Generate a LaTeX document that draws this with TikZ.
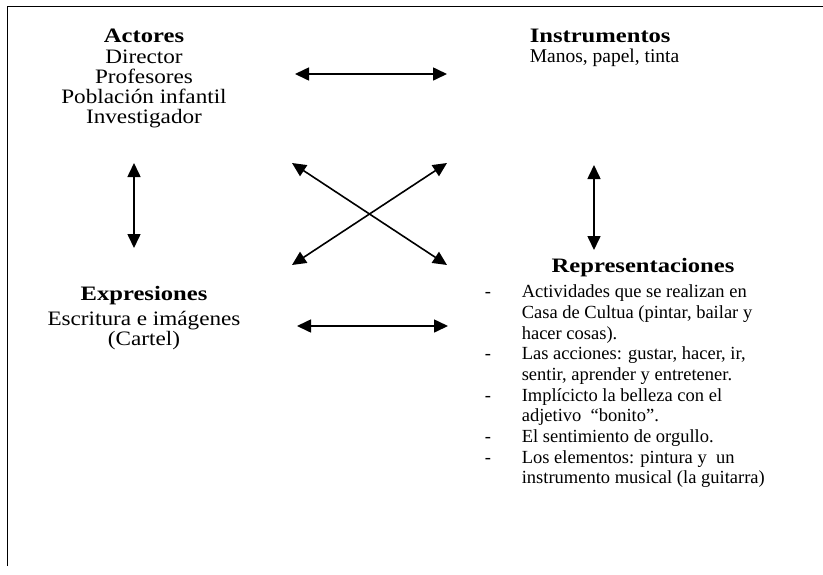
\documentclass[tikz,border=0pt]{standalone}
\usepackage{fontspec}
\setmainfont{Liberation Serif}
\newfontfamily\wide[FakeStretch=1.13]{Liberation Serif}
\newfontfamily\wider[FakeStretch=1.2]{Liberation Serif}
\usetikzlibrary{arrows.meta,positioning}

\newcommand{\itm}{\makebox[37pt][l]{-}}
\newcommand{\ind}{\hspace*{37pt}}

\begin{document}
\begin{tikzpicture}[
	x = 1pt, y = -1pt, % pixel like coordinates
	> = {Triangle[width=13pt,length=14pt]}, % arrow head style
	line width = 1.6pt, % line style
	H/.style={inner sep=0pt, font=\wider\fontsize{20.5}{21}\selectfont\bfseries},  % block titles
	T/.style={inner sep=0pt, align=center, font=\wide\fontsize{20.5}{20.3}\selectfont},  % centred text
	L/.style={inner sep=0pt, align=left, font=\fontsize{18.5}{20.7}\selectfont},    % dashed list
	]

	\useasboundingbox (0,0) rectangle (823,574);
	% frame, only its top and left edges show
	\draw[line width=1pt] (7,566) -- (7,6) -- (823,6);

	% Nodes and their positions
	\node[H] (act) at (144,36) {Actores};
	\node[T] (actL) [below = 5pt of act] {Director\\Profesores\\Población infantil\\Investigador};

	\node[H, anchor=west] (ins) at (529,36) {Instrumentos};
	\node[T] (insL) [below = 5pt of ins.south west, anchor=north west, font=\fontsize{19.5}{20}\selectfont] {Manos, papel, tinta};

	\node[H] (exp) at (144,296) {Expresiones};
	\node[T] (expL) [below = 4pt of exp] {Escritura e imágenes\\(Cartel)};

	\node[H] (rep) at (643,268) {Representaciones};
	\node[L] (repL) [anchor=north west] at (484,284) {%
		\itm Actividades que se realizan en\\
		\ind Casa de Cultua (pintar, bailar y\\
		\ind hacer cosas).\\
		\itm Las acciones: gustar, hacer, ir,\\
		\ind sentir, aprender y entretener.\\
		\itm Implícicto la belleza con el\\
		\ind adjetivo\ \ “bonito”.\\
		\itm El sentimiento de orgullo.\\
		\itm Los elementos: pintura y\ \ un\\
		\ind instrumento musical (la guitarra)};

	% arrow ends
	\coordinate (a1) at (295,74);  \coordinate (a2) at (447,74);
	\coordinate (b1) at (297,326); \coordinate (b2) at (448,326);
	\coordinate (c1) at (134,163); \coordinate (c2) at (134,248);
	\coordinate (d1) at (594,165); \coordinate (d2) at (594,250);
	\coordinate (x1) at (292,163); \coordinate (x2) at (447,265);
	\coordinate (x3) at (447,163); \coordinate (x4) at (292,265);

	% Paths connecting them
	\path[<->] (a1) edge (a2);
	\path[<->] (b1) edge (b2);
	\path[<->] (c1) edge (c2);
	\path[<->] (d1) edge (d2);
	\path[<->] (x1) edge (x2);
	\path[<->] (x3) edge (x4);

\end{tikzpicture}
\end{document}
